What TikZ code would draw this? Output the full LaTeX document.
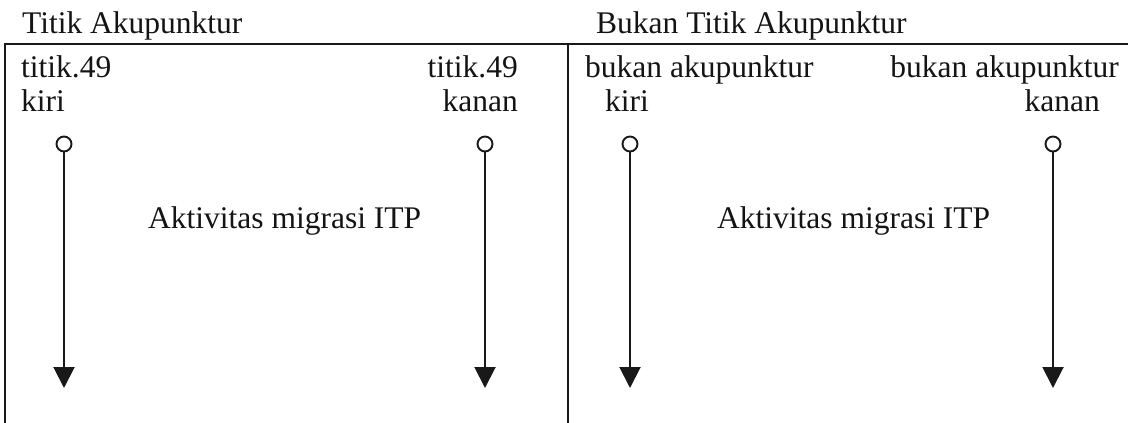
\documentclass[tikz,border=0pt]{standalone}
\usepackage{fontspec}
\setmainfont{Liberation Serif}
\usetikzlibrary{arrows.meta}
\begin{document}
\begin{tikzpicture}[x=1pt,y=-1pt,
  lbl/.style={inner sep=0pt,font=\fontsize{31.5}{38}\selectfont,text=black!92},
  frame/.style={line width=2pt,black!90},
  spot/.style={circle,draw=black!90,line width=1.9pt,fill=white,minimum size=15pt,inner sep=0pt},
  flow/.style={line width=2pt,black!90,-{Triangle[width=21pt,length=21pt]}}]
\useasboundingbox (0,0) rectangle (1128,423);
% frame of the two panels
\coordinate (tl) at (5,44);
\coordinate (tr) at (1128,44);
\coordinate (bl) at (5,423);
\coordinate (mt) at (568,44);
\coordinate (mb) at (568,423);
\draw[frame] (bl) -- (tl) -- (tr);
\draw[frame] (mt) -- (mb);
% panel headings
\node[lbl,anchor=base west] (hA) at (22,34) {Titik Akupunktur};
\node[lbl,anchor=base west] (hB) at (596,34) {Bukan Titik Akupunktur};
% point labels
\node[lbl,anchor=base west] (l1) at (21,77) {titik.49};
\node[lbl,anchor=base west] (l2) at (21,111) {kiri};
\node[lbl,anchor=base east] (r1) at (518,77) {titik.49};
\node[lbl,anchor=base east] (r2) at (518,111) {kanan};
\node[lbl,anchor=base west] (bl1) at (585,77) {bukan akupunktur};
\node[lbl,anchor=base west] (bl2) at (605,111) {kiri};
\node[lbl,anchor=base east] (br1) at (1119,77) {bukan akupunktur};
\node[lbl,anchor=base east] (br2) at (1100,111) {kanan};
% centre captions
\node[lbl,anchor=base west] (cA) at (148,228) {Aktivitas migrasi ITP};
\node[lbl,anchor=base west] (cB) at (717,228) {Aktivitas migrasi ITP};
% injection points and migration arrows
\node[spot] (p1) at (64,144) {};
\node[spot] (p2) at (485,144) {};
\node[spot] (p3) at (630,144) {};
\node[spot] (p4) at (1053,144) {};
\coordinate (e1) at (64,388);
\coordinate (e2) at (485,388);
\coordinate (e3) at (630,388);
\coordinate (e4) at (1053,388);
\draw[flow] (p1) -- (e1);
\draw[flow] (p2) -- (e2);
\draw[flow] (p3) -- (e3);
\draw[flow] (p4) -- (e4);
\end{tikzpicture}
\end{document}
